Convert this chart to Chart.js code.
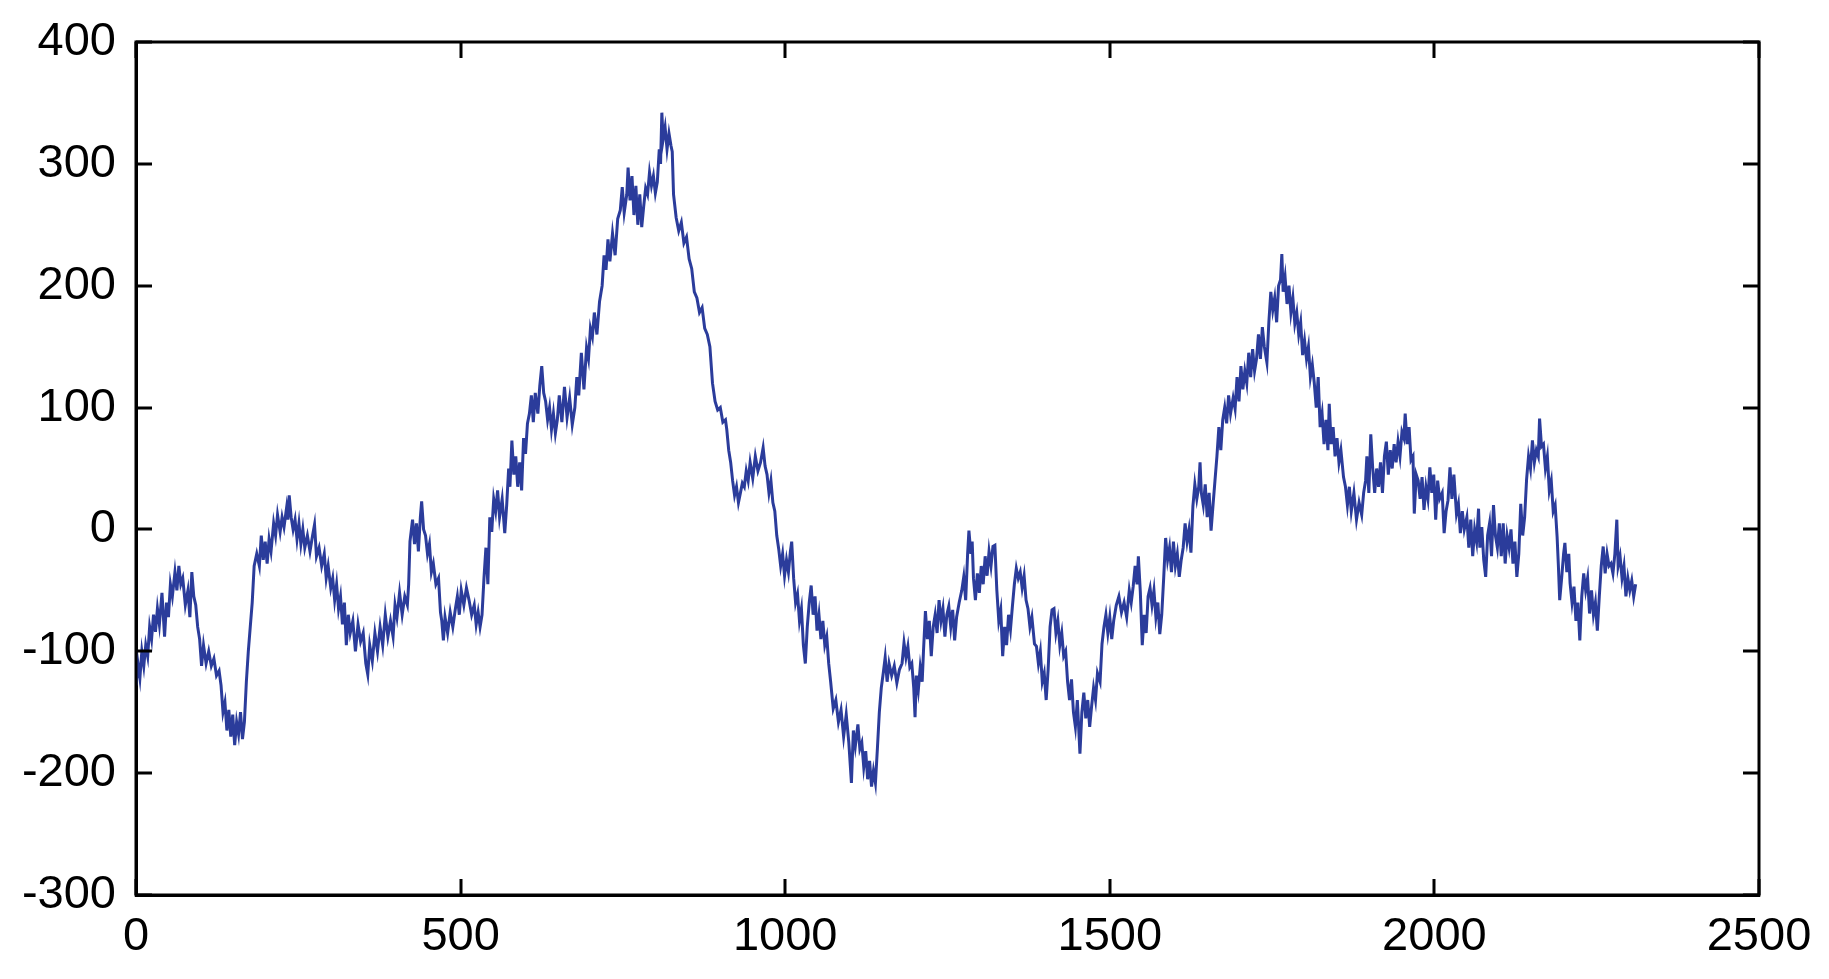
<!DOCTYPE html>
<html>
<head>
<meta charset="utf-8">
<script src="https://cdn.jsdelivr.net/npm/chart.js@4/dist/chart.umd.min.js"></script>
<style>
  html, body { margin: 0; padding: 0; background: #ffffff; }
  #wrap { width: 1829px; height: 979px; }
</style>
</head>
<body>
<div id="wrap"><canvas id="c" width="1829" height="979"></canvas></div>
<script>
// ---- tick labels ----
const xTicks = [0, 500, 1000, 1500, 2000, 2500];
const yTicks = [-300, -200, -100, 0, 100, 200, 300, 400];

// ---- series ----
const xValues = [
0,3,6,9,12,15,18,21,24,27,30,33,36,40,44,47,50,53,56,60,63,66,69,72,76,80,83,86,89,92,95,98,101,104,108,112,116,120,124,128,131,134,137,140,143,146,149,152,155,158,161,164,167,170,173,176,179,182,186,190,193,196,199,202,205,208,212,215,218,222,225,228,232,234,236,239,242,245,248,251,254,257,260,264,268,272,275,278,282,286,290,293,296,300,303,306,309,312,315,318,321,324,327,330,334,338,342,346,350,354,357,360,364,368,372,376,380,384,388,392,396,399,
402,406,410,414,418,420,422,426,429,432,435,438,440,443,446,449,452,455,458,462,466,469,471,473.5,476,480,484,488,492,495,498,501,505,509,513,517,521,524,527,530,533,536,539,542,545,548,551,554,557,560,564,568,571,574,576,579,582,585,588,591,594,597,600,603,606,609,612,615,619,622,625,628,631,634,637,640,643,646,649,652,656,660,664,668,672,676,679,682,686,690,694,697,700,703,706,710,714,718,721,724,727,730,734,738,742,746,749,752,756,758,761,764,767,770,773,776,779,782,785,788,791,794,797,800,803,
806,808,810,812,815,818,821,824,826,828,832,836,840,844,848,852,856,860,864,868,872,876,880,884,888,892,896,900,904,908,910,913,916,919,922,925,928,931,934,937,940,943,946,950,954,958,962,966,969,972,975,978,981,984,987,990,993,996,999,1002,1005,1008,1010,1013,1016,1019,1022,1025,1028,1031,1034,1037,1040,1043,1046,1049,1052,1055,1058,1061,1064,1067,1070,1074,1078,1082,1086,1090,1094,1098,1102,1105,1108,1112,1115,1118,1121,1124,1127,1130,1133,1136,1139,1142,1145,1148,1151,1154,
1157,1160,1164,1168,1172,1176,1180,1183,1186,1189,1192,1195,1198,1200,1202,1205,1208,1211,1213,1216,1219,1222,1225,1228,1231,1234,1237,1240,1243,1246,1249,1252,1255,1258,1261,1264,1268,1272,1275,1278,1281,1283,1286,1288,1290,1293,1296,1299,1302,1305,1308,1311,1314,1317,1320,1323,1326,1329,1332,1335,1338,1341,1344,1347,1350,1353,1356,1359,1362,1365,1368,1371,1374,1377,1380,1384,1387,1390,1393,1396,1399,1402,1405,1408,1411,1414,1417,1420,1423,1426,1429,1432,1435,1438,1441,1444,1447,1450,1454,1457,1460,1463,1466,1469,1472,1475,1478,1481,1485,1488,1491,1494,1497,1500,1503,1506,1510,1514,1518,1522,1526,1530,1533,1536,1539,1542,1544,
1547,1550,1553,1556,1559,1562,1565,1568,1571,1574,1577,1580,1583,1586,1589,1592,1595,1598,1601,1604,1607,1610,1613,1616,1619,1622,1625,1628,1631,1634,1637,1639,1641,1644,1647,1650,1653,1656,1659,1662,1665,1668,1671,1674,1677,1680,1683,1686,1690,1693,1696,1699,1702,1705,1708,1711,1714,1717,1720,1723,1726,1729,1732,1735,1738,1742,1745,1748,1751,1754,1757,1760,1763,1765,1767,1770,1773,1776,1779,1782,1785,1788,1791,1794,1797,1800,1803,1806,1809,1812,1815,1818,1821,1824,1827,1830,1833,1836,1838,1841,1844,1847,1850,1853,1856,1860,1863,1866,1869,1872,1876,1880,1884,1888,1891,1894,1896,1899,1902,1905,1908,1911,1914,1917,1920,1923,1926,1929,1932,
1935,1938,1941,1944,1947,1950,1953,1955,1958,1961,1964,1967,1969,1972,1975,1978,1981,1984,1987,1990,1993,1996,1999,2002,2005,2008,2012,2015,2018,2021,2024,2027,2030,2034,2037,2040,2043,2046,2050,2053,2056,2059,2062,2065,2068,2070,2073,2076,2079,2082,2085,2088,2091,2094,2097,2100,2103,2106,2109,2112,2115,2118,2121,2124,2127,2130,2133,2136,2139,2142,2145,2148,2151,2154,2157,2160,2162,2165,2168,2171,2174,2177,2180,2183,2186,2189,2191,2193,2196,2199,2201,2204,2207,2209,2212,2215,2218,2221,2224,2227,2230,2233,2236,2239,2242,2245,2248,2251,2254,2257,2260,2263,2266,2269,2272,2275,2278,2281,2283,2286,2289,2292,2295,2298,2301,2304,2307,2310
];
const yValues = [
-128,-110,-122,-100,-112,-95,-104,-80,-90,-70,-84,-65,-78,-52,-88,-60,-72,-45,-55,-35,-50,-30,-45,-40,-62,-50,-72,-35,-55,-62,-80,-90,-112,-95,-110,-100,-112,-106,-120,-116,-128,-150,-142,-165,-148,-170,-152,-177,-158,-168,-150,-172,-158,-125,-100,-80,-60,-30,-20,-30,-5,-25,-10,-28,-8,-18,5,-5,12,-2,10,2,18,8,28,10,0,8,-8,5,-12,0,-15,-5,-18,-5,4,-22,-15,-30,-20,-40,-30,-48,-40,-58,-45,-65,-55,-78,-60,-95,-70,-85,-75,-100,-78,-92,-85,-110,-119,-95,-108,-85,-100,-80,-95,-70,-88,-75,-88,-62,
-72,-52,-70,-55,-62,-45,-10,8,-12,5,-18,10,23,0,-5,-20,-12,-35,-28,-45,-40,-68,-75,-91,-72,-85,-68,-80,-65,-55,-70,-50,-62,-48,-58,-70,-62,-78,-68,-80,-70,-40,-15,-45,10,-2,25,15,32,10,25,-3,20,50,35,73,45,60,35,55,32,75,62,87,95,110,88,112,95,118,134,112,105,90,100,82,95,79,90,110,88,117,92,108,86,100,125,110,145,115,149,140,165,158,178,160,187,200,225,213,238,220,243,225,255,262,281,260,275,297,270,290,258,282,250,275,248,265,280,275,293,282,290,276,285,
312,300,342,320,330,312,325,315,310,275,256,245,252,235,240,222,214,195,190,178,182,165,160,150,120,105,98,100,88,90,82,65,55,40,28,35,22,30,38,35,48,40,55,42,60,48,55,67,52,45,30,40,22,15,-5,-16,-30,-20,-38,-25,-35,-18,-10,-40,-60,-53,-75,-65,-95,-110,-80,-60,-46,-70,-55,-83,-70,-90,-75,-95,-88,-110,-125,-147,-140,-158,-148,-170,-152,-175,-208,-165,-178,-160,-180,-175,-195,-182,-205,-190,-211,-198,-208,-180,-150,-130,-118,-105,
-125,-110,-120,-112,-126,-115,-110,-93,-105,-96,-113,-110,-130,-154,-120,-132,-113,-125,-100,-67,-90,-75,-104,-80,-70,-85,-58,-75,-65,-88,-70,-63,-80,-66,-91,-72,-60,-50,-39,-58,-20,-1,-20,-10,-40,-58,-36,-52,-30,-45,-22,-38,-18,-30,-14,-13,-50,-75,-66,-104,-80,-95,-70,-82,-63,-45,-32,-40,-35,-48,-38,-58,-65,-80,-72,-94,-96,-110,-100,-125,-118,-140,-115,-80,-66,-65,-85,-75,-95,-85,-104,-100,-125,-140,-123,-150,-162,-140,-184,-150,-134,-155,-140,-162,-145,-130,-140,-118,-125,-94,-80,-70,-85,-72,-90,-75,-62,-55,-68,-60,-72,-50,-60,-47,-30,-45,-22,
-51,-95,-70,-85,-55,-48,-62,-50,-72,-60,-86,-70,-40,-7,-25,-15,-35,-10,-30,-20,-39,-25,-15,5,-10,0,-19,19,37,25,35,55,30,20,37,10,30,-1,20,40,60,84,65,90,100,87,110,95,108,99,125,105,134,115,130,120,145,125,148,130,140,160,140,166,150,137,170,195,180,190,170,200,205,226,195,207,185,200,178,190,169,178,160,170,143,155,140,150,125,135,120,100,125,84,95,70,90,65,103,70,84,60,75,55,65,43,35,20,35,15,30,8,22,12,30,40,60,30,78,50,30,50,35,55,30,60,72,45,65,
50,70,55,72,60,80,75,95,70,84,57,60,13,45,40,25,43,16,35,25,51,30,45,8,40,25,30,-3,15,24,51,25,45,13,21,-3,15,0,10,-15,8,-22,0,-10,17,-15,2,-25,-39,-5,5,-22,20,-5,-15,5,-22,5,-28,-5,-15,0,-28,-10,-39,-20,21,-5,10,41,60,50,73,55,65,60,91,68,70,50,60,32,40,15,20,-6,-30,-58,-40,-20,-11,-35,-20,-44,-60,-47,-75,-60,-91,-55,-36,-50,-40,-69,-50,-70,-60,-83,-55,-30,-14,-36,-20,-30,-28,-36,-20,8,-30,-22,-40,-30,-55,-40,-50,-42,-55,-45
];

const points = xValues.map((x, i) => ({ x: x, y: yValues[i] }));

const AXIS_FONT = { family: "'Liberation Sans', Arial, sans-serif", size: 47 };

const boxTicks = {
  id: 'boxTicks',
  afterDraw(chart) {
    const { ctx, chartArea: a, scales } = chart;
    const L = 16;
    ctx.save();
    ctx.strokeStyle = '#000';
    ctx.lineWidth = 3;
    ctx.lineCap = 'butt';
    ctx.beginPath();
    ctx.rect(a.left, a.top, a.right - a.left, a.bottom - a.top);
    ctx.stroke();
    ctx.beginPath();
    xTicks.forEach(v => {
      const px = Math.round(scales.x.getPixelForValue(v));
      ctx.moveTo(px, a.bottom); ctx.lineTo(px, a.bottom - L);
      ctx.moveTo(px, a.top); ctx.lineTo(px, a.top + L);
    });
    yTicks.forEach(v => {
      const py = Math.round(scales.y.getPixelForValue(v));
      ctx.moveTo(a.left, py); ctx.lineTo(a.left + L, py);
      ctx.moveTo(a.right, py); ctx.lineTo(a.right - L, py);
    });
    ctx.stroke();
    ctx.restore();
  }
};

new Chart(document.getElementById('c'), {
  type: 'line',
  data: {
    datasets: [{
      data: points,
      borderColor: '#2b3c9b',
      borderWidth: 3,
      pointRadius: 0,
      tension: 0,
      fill: false
    }]
  },
  options: {
    responsive: false,
    animation: false,
    parsing: true,
    layout: { padding: { top: 42, right: 70, left: 0, bottom: 0 } },
    plugins: { legend: { display: false }, tooltip: { enabled: false } },
    scales: {
      x: {
        type: 'linear',
        min: 0, max: 2500,
        afterBuildTicks: s => { s.ticks = xTicks.map(v => ({ value: v })); },
        afterFit: s => { s.height = 84; s.paddingLeft = 0; s.paddingRight = 0; },
        grid: { display: false, drawTicks: false },
        border: { display: true, color: '#000', width: 3 },
        ticks: { color: '#000', font: AXIS_FONT, padding: 14, maxRotation: 0, autoSkip: false,
                 callback: v => String(v) }
      },
      y: {
        type: 'linear',
        min: -300, max: 400,
        afterBuildTicks: s => { s.ticks = yTicks.map(v => ({ value: v })); },
        afterFit: s => { s.width = 136; s.paddingTop = 0; s.paddingBottom = 0; },
        grid: { display: false, drawTicks: false },
        border: { display: true, color: '#000', width: 3 },
        ticks: { color: '#000', font: AXIS_FONT, padding: 20, autoSkip: false,
                 callback: v => String(v) }
      }
    }
  },
  plugins: [boxTicks]
});
</script>
</body>
</html>
